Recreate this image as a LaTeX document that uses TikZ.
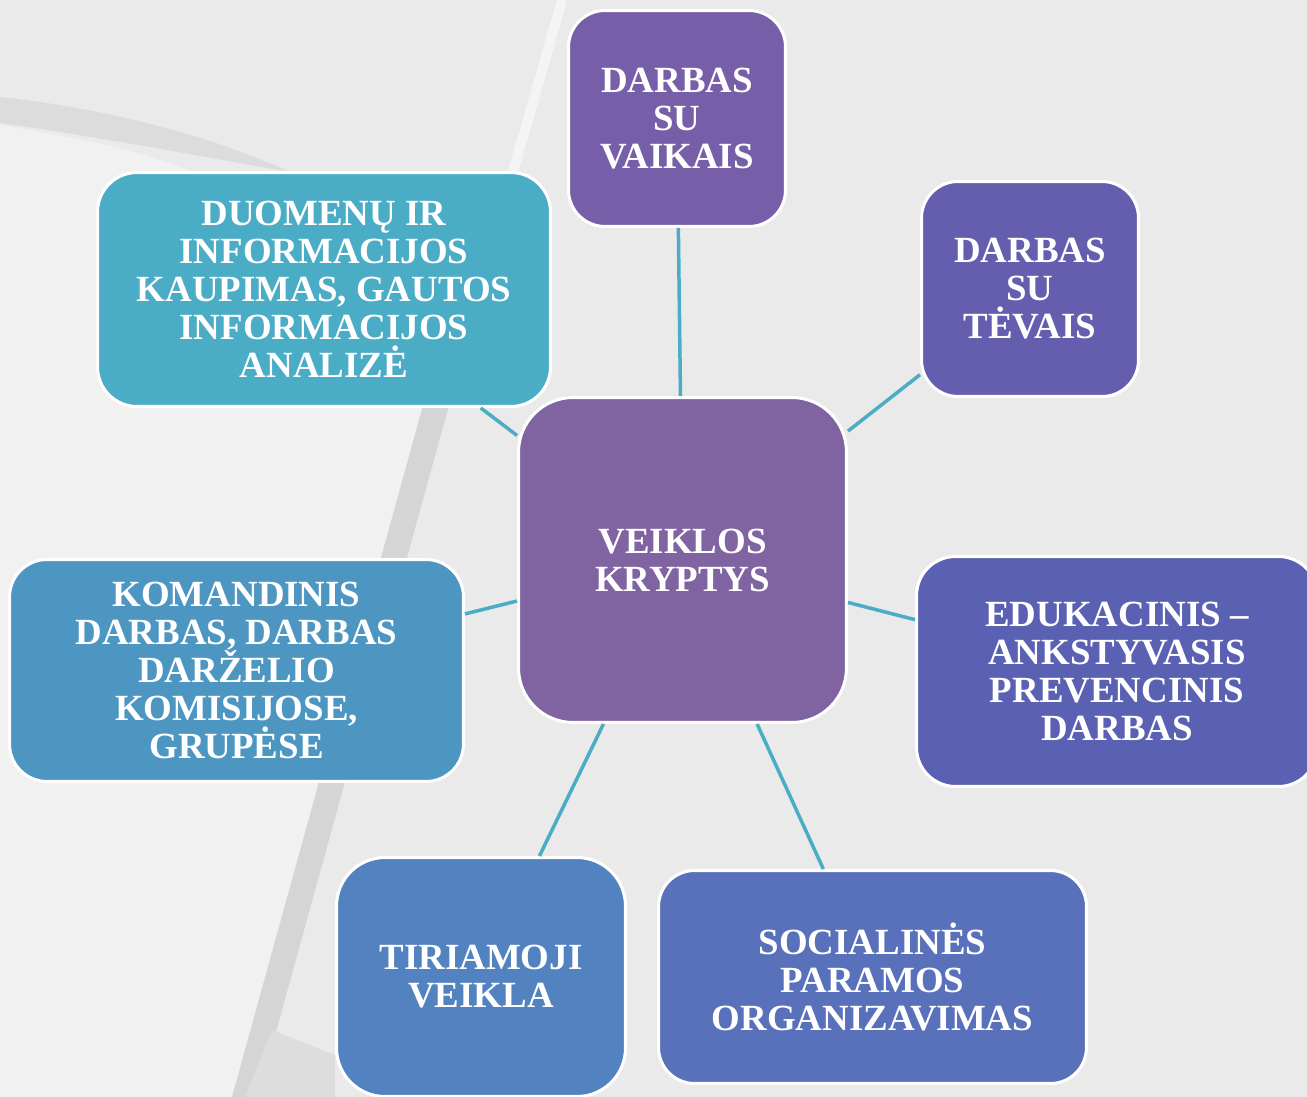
\documentclass[tikz,border=0pt]{standalone}
\usepackage{fontspec}
\setmainfont{Liberation Serif}
\definecolor{bgbase}{HTML}{EAEAEA}
\definecolor{bgdark}{HTML}{DCDCDC}
\definecolor{bgband}{HTML}{D5D5D5}
\definecolor{bglight}{HTML}{F1F1F1}
\definecolor{bgstripe}{HTML}{F4F4F4}
\definecolor{cv}{HTML}{765FA8}
\definecolor{ct}{HTML}{655DAE}
\definecolor{cd}{HTML}{4BACC6}
\definecolor{cc}{HTML}{8064A2}
\definecolor{ce}{HTML}{5A60B2}
\definecolor{ck}{HTML}{4E96C2}
\definecolor{cti}{HTML}{5282BF}
\definecolor{cs}{HTML}{5871BA}
\definecolor{link}{HTML}{4BACC6}
\tikzset{
  box/.style={rectangle, draw=white, line width=0.06cm, inner sep=0pt,
    align=center, text=white,
    font=\bfseries\fontsize{21}{21.6}\selectfont},
  linkline/.style={draw=link, line width=0.07cm}
}
\begin{document}
\begin{tikzpicture}[x=0.02cm,y=-0.02cm]
\useasboundingbox (0,0) rectangle (1307,1097);
\clip (0,0) rectangle (1307,1097);
% background
\fill[bgbase] (0,0) rectangle (1307,1097);
\fill[bglight] (0,125) .. controls (150,150) and (300,175) .. (440,380) -- (240,1097) -- (0,1097) -- cycle;
\fill[bgdark] (0,97) .. controls (120,110) and (220,140) .. (290,172) .. controls (220,160) and (120,140) .. (0,123) -- cycle;
\fill[bgband] (430,380) -- (456,380) -- (258,1097) -- (232,1097) -- cycle;
\fill[bgband!60!bgbase] (272,1030) -- (335,1055) -- (335,1097) -- (245,1097) -- cycle;
\draw[bgstripe, line width=0.2cm] (562,0) .. controls (545,60) and (528,120) .. (512,175);
% nodes
\node[box, fill=cv, minimum width=4.34cm, minimum height=4.32cm, rounded corners=0.73cm] (v) at (677,118.5) {DARBAS\\SU\\VAIKAIS};
\node[box, fill=ct, minimum width=4.34cm, minimum height=4.30cm, rounded corners=0.73cm] (t) at (1030,289) {DARBAS\\SU\\TĖVAIS};
\node[box, fill=cd, minimum width=9.06cm, minimum height=4.68cm, rounded corners=0.79cm] (d) at (324,289.5) {DUOMENŲ IR\\INFORMACIJOS\\KAUPIMAS, GAUTOS\\INFORMACIJOS\\ANALIZĖ};
\node[box, fill=cc, minimum width=6.56cm, minimum height=6.50cm, rounded corners=1.09cm] (c) at (682.5,560) {VEIKLOS\\KRYPTYS};
\node[box, fill=ce, minimum width=8.02cm, minimum height=4.60cm, rounded corners=0.78cm] (e) at (1117,671.5) {EDUKACINIS –\\ANKSTYVASIS\\PREVENCINIS\\DARBAS};
\node[box, fill=ck, minimum width=9.08cm, minimum height=4.44cm, rounded corners=0.75cm] (k) at (236.5,670.5) {KOMANDINIS\\DARBAS, DARBAS\\DARŽELIO\\KOMISIJOSE,\\GRUPĖSE};
\node[box, fill=cti, minimum width=5.78cm, minimum height=4.78cm, rounded corners=0.97cm] (ti) at (481,977) {TIRIAMOJI\\VEIKLA};
\node[box, fill=cs, minimum width=8.56cm, minimum height=4.26cm, rounded corners=0.72cm] (s) at (872.5,977) {SOCIALINĖS\\PARAMOS\\ORGANIZAVIMAS};
% connectors
\draw[linkline] (c) -- (v);
\draw[linkline] (c) -- (t);
\draw[linkline] (c) -- (d);
\draw[linkline] (c) -- (e);
\draw[linkline] (c) -- (k);
\draw[linkline] (c) -- (ti);
\draw[linkline] (c) -- (s);
\end{tikzpicture}
\end{document}
